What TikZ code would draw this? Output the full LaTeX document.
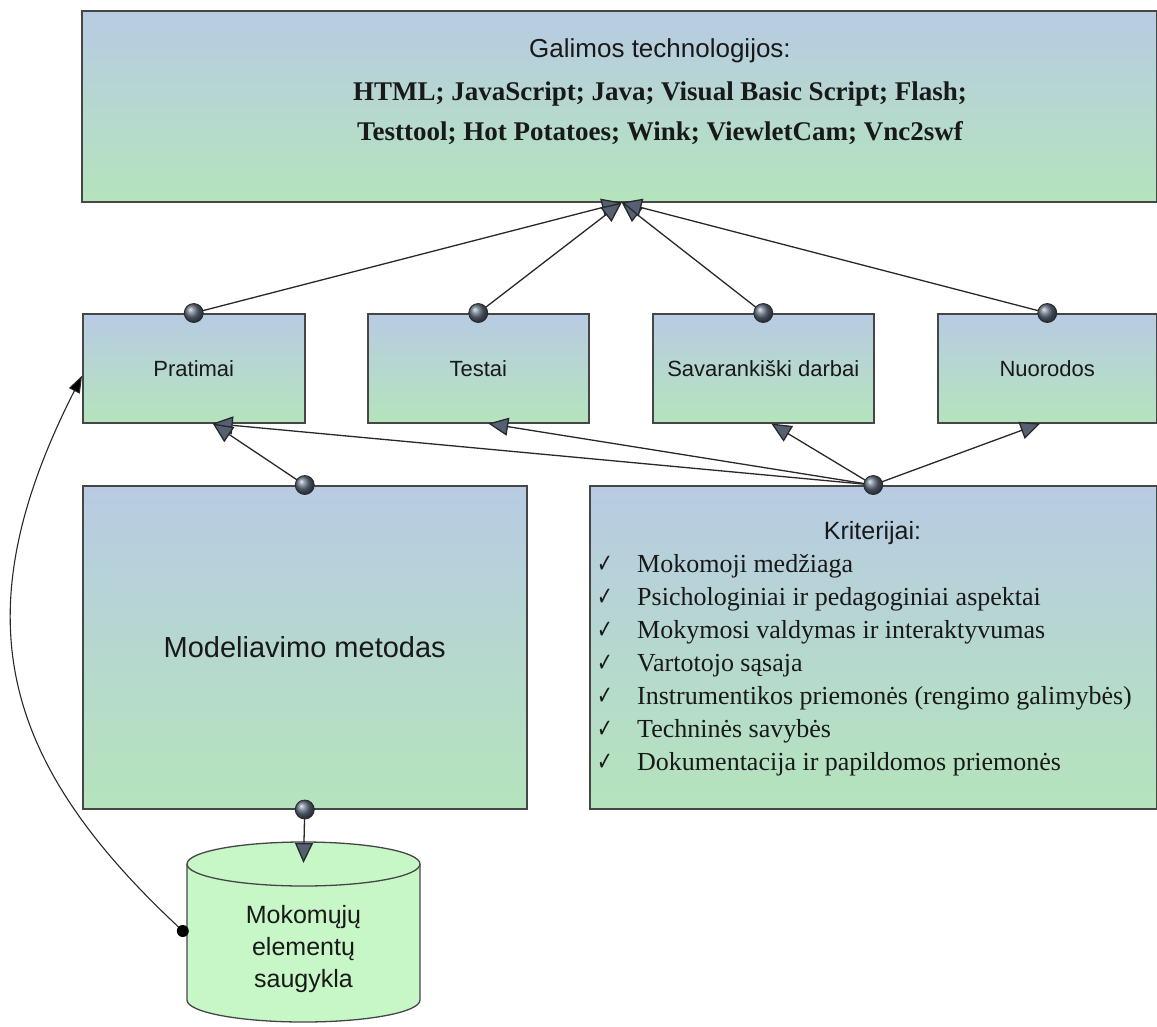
\documentclass[tikz,border=0pt]{standalone}
\usepackage{fontspec}
\usepackage{graphicx}
\setmainfont{Liberation Serif}
\setsansfont{Liberation Sans}
\newfontfamily\arialf{Liberation Sans}
\newfontfamily\timesf{Liberation Serif}
\newfontfamily\dejavu{DejaVu Sans}
\usetikzlibrary{arrows.meta,calc}

\definecolor{gtop}{RGB}{184,203,227}
\definecolor{gbot}{RGB}{180,228,188}
\definecolor{bordc}{RGB}{70,70,70}
\definecolor{linec}{RGB}{40,40,40}
\definecolor{arrfill}{RGB}{85,97,114}
\definecolor{ballc}{RGB}{95,108,126}
\definecolor{cylfill}{RGB}{199,246,199}
\definecolor{txtc}{RGB}{25,25,25}

\begin{document}
\begin{tikzpicture}[x=1pt,y=-1pt,
  gbox/.style={draw=bordc, line width=1.5pt, top color=gtop, bottom color=gbot,
    rectangle, inner sep=0pt, anchor=north west, text=txtc,
    font=\arialf\fontsize{22}{26}\selectfont},
  conn/.style={draw=linec, line width=1.3pt},
  tri/.style={-{Triangle[length=20pt,width=18pt,fill=arrfill]}},
  dotend/.style={circle, draw=linec, line width=0.8pt, shading=ball, ball color=ballc,
    minimum size=19pt, inner sep=0pt},
  ltxt/.style={anchor=base, inner sep=0pt, text=txtc},
]
\useasboundingbox (0,0) rectangle (1157,1026);

% boxes
\node[gbox, minimum width=1075pt, minimum height=191pt] (tech) at (81,10) {};
\node[gbox, minimum width=222pt, minimum height=109pt] (prat) at (82,313) {Pratimai};
\node[gbox, minimum width=221pt, minimum height=109pt] (test) at (367,313) {Testai};
\node[gbox, minimum width=221pt, minimum height=109pt] (sav) at (652,313) {Savarankiški darbai};
\node[gbox, minimum width=219pt, minimum height=109pt] (nuor) at (937,313) {Nuorodos};
\node[gbox, minimum width=444pt, minimum height=323pt,
  font=\arialf\fontsize{29}{34}\selectfont] (model) at (82,485) {Modeliavimo metodas};
\node[gbox, minimum width=567pt, minimum height=323pt] (krit) at (589,485) {};

% texts in the top box
\node[ltxt, font=\arialf\fontsize{26}{30}\selectfont] (t1) at (660,57) {Galimos technologijos:};
\node[ltxt, font=\timesf\bfseries\fontsize{27}{30}\selectfont] (t2) at (660,100)
  {HTML; JavaScript; Java; Visual Basic Script; Flash;};
\node[ltxt, font=\timesf\bfseries\fontsize{27}{30}\selectfont] (t3) at (660,140)
  {Testtool; Hot Potatoes; Wink; ViewletCam; Vnc2swf};

% texts in criteria box
\node[ltxt, font=\arialf\fontsize{25}{30}\selectfont] (kt) at (872.5,539) {Kriterijai:};
\foreach \t [count=\i] in {Mokomoji medžiaga, Psichologiniai ir pedagoginiai aspektai,
  Mokymosi valdymas ir interaktyvumas, Vartotojo sąsaja,
  Instrumentikos priemonės (rengimo galimybės), Techninės savybės,
  Dokumentacija ir papildomos priemonės}{
  \node[anchor=base west, inner sep=0pt, text=txtc, font=\dejavu\fontsize{26}{28}\selectfont]
    (c\i) at (597,{539+33*\i}) {\scalebox{0.72}[1]{✓}};
  \node[anchor=base west, inner sep=0pt, text=txtc, font=\timesf\fontsize{26}{30}\selectfont]
    (k\i) at (637,{539+33*\i}) {\t};
}

% cylinder
\fill[cylfill] (187,864) -- (187,1000)
  arc[start angle=180, end angle=0, x radius=116.5, y radius=22] -- (420,864)
  arc[start angle=0, end angle=180, x radius=116.5, y radius=22] -- cycle;
\draw[bordc, line width=1.3pt] (187,864) -- (187,1000)
  arc[start angle=180, end angle=0, x radius=116.5, y radius=22] -- (420,864);
\draw[bordc, line width=1.3pt, fill=cylfill] (303.5,864) ellipse[x radius=116.5, y radius=22];
\node[inner sep=0pt, minimum width=233pt, align=center, text=txtc,
  font=\arialf\fontsize{25}{32}\selectfont] (cyl) at (303.5,949)
  {Mokomųjų\\elementų\\saugykla};

% anchor points
\coordinate (tt) at ($(tech.south)+(2.5,0)$);
\coordinate (pb) at ($(prat.south)+(19,0)$);
\coordinate (tb) at ($(test.south)+(10,0)$);
\coordinate (sb) at ($(sav.south)+(8,0)$);
\coordinate (nb) at ($(nuor.south)+(-7,0)$);
\coordinate (cyltop) at (303.5,863);
\coordinate (pl) at ($(prat.west)+(0,7.5)$);
\coordinate (cl) at ($(cyl.west)+(-4,-18)$);

% connectors
\draw[conn,tri] (prat.north) -- (tt);
\draw[conn,tri] (test.north) -- (tt);
\draw[conn,tri] (sav.north) -- (tt);
\draw[conn,tri] (nuor.north) -- (tt);
\draw[conn,tri] (krit.north) -- (pb);
\draw[conn,tri] (krit.north) -- (tb);
\draw[conn,tri] (krit.north) -- (sb);
\draw[conn,tri] (krit.north) -- (nb);
\draw[conn,tri] (model.north) -- (pb);
\draw[conn,tri] (model.south) -- (cyltop);
\draw[linec, line width=1.1pt, -{Triangle[length=17pt,width=12pt,fill=black]}]
  (cl) .. controls (-1,761) and (-39.5,615.3) .. (pl);

% connector end dots
\node[dotend] (d1) at (prat.north) {};
\node[dotend] (d2) at (test.north) {};
\node[dotend] (d3) at (sav.north) {};
\node[dotend] (d4) at (nuor.north) {};
\node[dotend] (d5) at (krit.north) {};
\node[dotend] (d6) at (model.north) {};
\node[dotend] (d7) at (model.south) {};
\node[circle, fill=black, minimum size=12pt, inner sep=0pt] (bd) at (cl) {};
\end{tikzpicture}
\end{document}
